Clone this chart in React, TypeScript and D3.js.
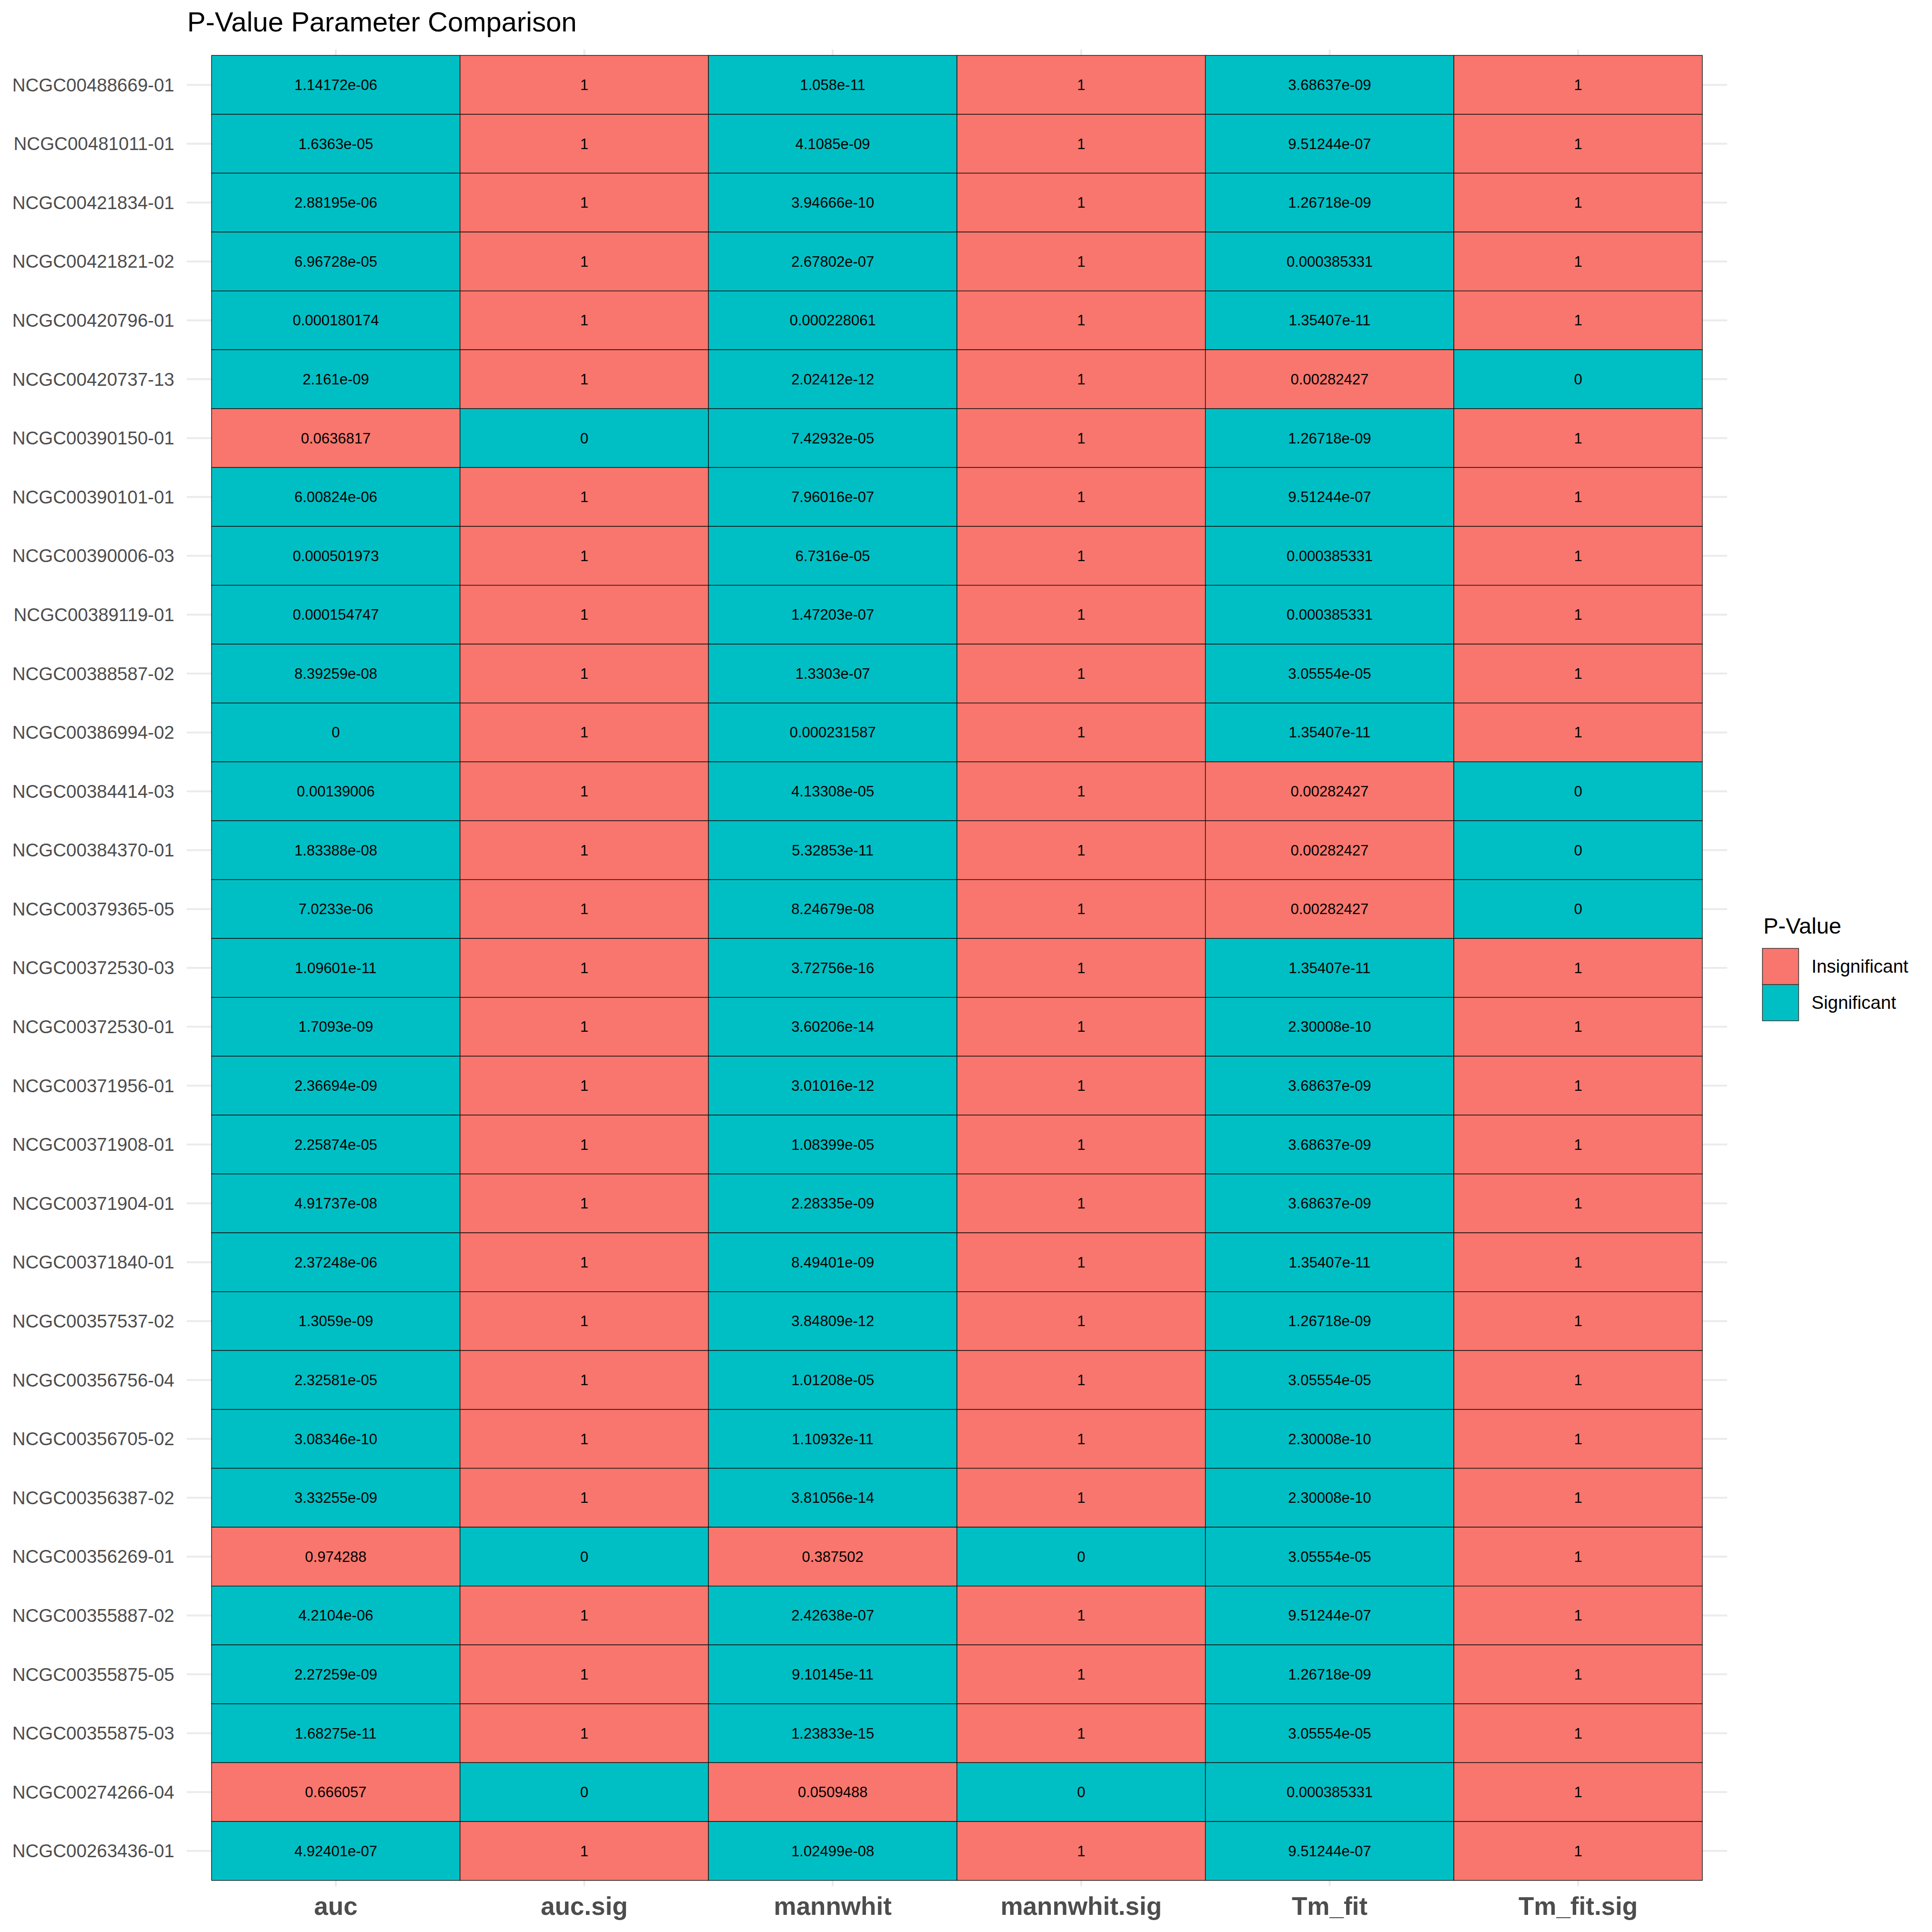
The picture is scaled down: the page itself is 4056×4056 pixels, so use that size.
import React from 'react';
import * as d3 from 'd3';

const compounds = [
  'NCGC00488669-01', 'NCGC00481011-01', 'NCGC00421834-01', 'NCGC00421821-02', 'NCGC00420796-01',
  'NCGC00420737-13', 'NCGC00390150-01', 'NCGC00390101-01', 'NCGC00390006-03', 'NCGC00389119-01',
  'NCGC00388587-02', 'NCGC00386994-02', 'NCGC00384414-03', 'NCGC00384370-01', 'NCGC00379365-05',
  'NCGC00372530-03', 'NCGC00372530-01', 'NCGC00371956-01', 'NCGC00371908-01', 'NCGC00371904-01',
  'NCGC00371840-01', 'NCGC00357537-02', 'NCGC00356756-04', 'NCGC00356705-02', 'NCGC00356387-02',
  'NCGC00356269-01', 'NCGC00355887-02', 'NCGC00355875-05', 'NCGC00355875-03', 'NCGC00274266-04',
  'NCGC00263436-01',
];

const params = ['auc', 'auc.sig', 'mannwhit', 'mannwhit.sig', 'Tm_fit', 'Tm_fit.sig'];

const auc = [
  '1.14172e-06', '1.6363e-05', '2.88195e-06', '6.96728e-05', '0.000180174',
  '2.161e-09', '0.0636817', '6.00824e-06', '0.000501973', '0.000154747',
  '8.39259e-08', '0', '0.00139006', '1.83388e-08', '7.0233e-06',
  '1.09601e-11', '1.7093e-09', '2.36694e-09', '2.25874e-05', '4.91737e-08',
  '2.37248e-06', '1.3059e-09', '2.32581e-05', '3.08346e-10', '3.33255e-09',
  '0.974288', '4.2104e-06', '2.27259e-09', '1.68275e-11', '0.666057',
  '4.92401e-07',
];
const aucSig = [1, 1, 1, 1, 1, 1, 0, 1, 1, 1, 1, 1, 1, 1, 1, 1, 1, 1, 1, 1, 1, 1, 1, 1, 1, 0, 1, 1, 1, 0, 1];

const mannwhit = [
  '1.058e-11', '4.1085e-09', '3.94666e-10', '2.67802e-07', '0.000228061',
  '2.02412e-12', '7.42932e-05', '7.96016e-07', '6.7316e-05', '1.47203e-07',
  '1.3303e-07', '0.000231587', '4.13308e-05', '5.32853e-11', '8.24679e-08',
  '3.72756e-16', '3.60206e-14', '3.01016e-12', '1.08399e-05', '2.28335e-09',
  '8.49401e-09', '3.84809e-12', '1.01208e-05', '1.10932e-11', '3.81056e-14',
  '0.387502', '2.42638e-07', '9.10145e-11', '1.23833e-15', '0.0509488',
  '1.02499e-08',
];
const mannwhitSig = [1, 1, 1, 1, 1, 1, 1, 1, 1, 1, 1, 1, 1, 1, 1, 1, 1, 1, 1, 1, 1, 1, 1, 1, 1, 0, 1, 1, 1, 0, 1];

const tmFit = [
  '3.68637e-09', '9.51244e-07', '1.26718e-09', '0.000385331', '1.35407e-11',
  '0.00282427', '1.26718e-09', '9.51244e-07', '0.000385331', '0.000385331',
  '3.05554e-05', '1.35407e-11', '0.00282427', '0.00282427', '0.00282427',
  '1.35407e-11', '2.30008e-10', '3.68637e-09', '3.68637e-09', '3.68637e-09',
  '1.35407e-11', '1.26718e-09', '3.05554e-05', '2.30008e-10', '2.30008e-10',
  '3.05554e-05', '9.51244e-07', '1.26718e-09', '3.05554e-05', '0.000385331',
  '9.51244e-07',
];
const tmFitSig = [1, 1, 1, 1, 1, 0, 1, 1, 1, 1, 1, 1, 0, 0, 0, 1, 1, 1, 1, 1, 1, 1, 1, 1, 1, 1, 1, 1, 1, 1, 1];

const legendLabels = ['Insignificant', 'Significant'];

type Cell = { row: string; param: string; label: string; status: string };

// value cell is significant when its sig flag is 1; the flag cell itself reads 1 -> insignificant
const cells: Cell[] = [];
const pairs: [string, string[], number[]][] = [
  ['auc', auc, aucSig],
  ['mannwhit', mannwhit, mannwhitSig],
  ['Tm_fit', tmFit, tmFitSig],
];
compounds.forEach((c, i) => {
  pairs.forEach(([name, vals, sig]) => {
    cells.push({ row: c, param: name, label: vals[i], status: sig[i] === 1 ? 'Significant' : 'Insignificant' });
    cells.push({ row: c, param: name + '.sig', label: String(sig[i]), status: sig[i] === 1 ? 'Insignificant' : 'Significant' });
  });
});

const FONT = '"Liberation Sans", Arial, Helvetica, sans-serif';

export default function App() {
  const W = 4056, H = 4056;
  const x = d3.scaleBand().domain(params).range([392, 3626]).paddingInner(0).paddingOuter(0.1);
  const y = d3.scaleBand().domain(compounds).range([104, 3960]).paddingInner(0).paddingOuter(0.1);
  const fill = d3.scaleOrdinal<string, string>().domain(legendLabels).range(['#F8766D', '#00BFC4']);
  const [x0, x1] = x.range();
  const [y0, y1] = y.range();

  return (
    <div style={{ position: 'absolute', left: 0, top: 0 }}>
      <svg width={W} height={H} style={{ display: 'block', background: '#fff' }} fontFamily={FONT}>
        <text x={393} y={66} fontSize={58} fill="#000">P-Value Parameter Comparison</text>

        {/* grid */}
        <g stroke="#ebebeb" strokeWidth={4}>
          {compounds.map(c => (
            <line key={c} x1={x0} x2={x1} y1={y(c)! + y.bandwidth() / 2} y2={y(c)! + y.bandwidth() / 2} />
          ))}
          {params.map(p => (
            <line key={p} y1={y0} y2={y1} x1={x(p)! + x.bandwidth() / 2} x2={x(p)! + x.bandwidth() / 2} />
          ))}
        </g>

        {/* tiles */}
        <g stroke="#111" strokeWidth={1.4}>
          {cells.map(d => (
            <rect key={d.row + d.param} x={x(d.param)} y={y(d.row)} width={x.bandwidth()} height={y.bandwidth()}
              fill={fill(d.status)} />
          ))}
        </g>
        <g fontSize={31} fill="#000" textAnchor="middle">
          {cells.map(d => (
            <text key={d.row + d.param} x={x(d.param)! + x.bandwidth() / 2} y={y(d.row)! + y.bandwidth() / 2} dy="0.35em">
              {d.label}
            </text>
          ))}
        </g>

        {/* y axis labels */}
        <g fontSize={38.5} fill="#4d4d4d" textAnchor="end">
          {compounds.map(c => (
            <text key={c} x={366} y={y(c)! + y.bandwidth() / 2} dy="0.35em">{c}</text>
          ))}
        </g>

        {/* x axis labels */}
        <g fontSize={53} fontWeight="bold" fill="#4d4d4d" textAnchor="middle">
          {params.map(p => (
            <text key={p} x={x(p)! + x.bandwidth() / 2} y={4020}>{p}</text>
          ))}
        </g>

        {/* legend */}
        <text x={3702} y={1960} fontSize={47} fill="#000">P-Value</text>
        {legendLabels.map((l, i) => (
          <g key={l} transform={`translate(3700,${1991 + i * 76})`}>
            <rect width={76} height={76} fill={fill(l)} stroke="#333" strokeWidth={1.5} />
            <text x={103} y={38} dy="0.35em" fontSize={38.5} fill="#000">{l}</text>
          </g>
        ))}
      </svg>
    </div>
  );
}
